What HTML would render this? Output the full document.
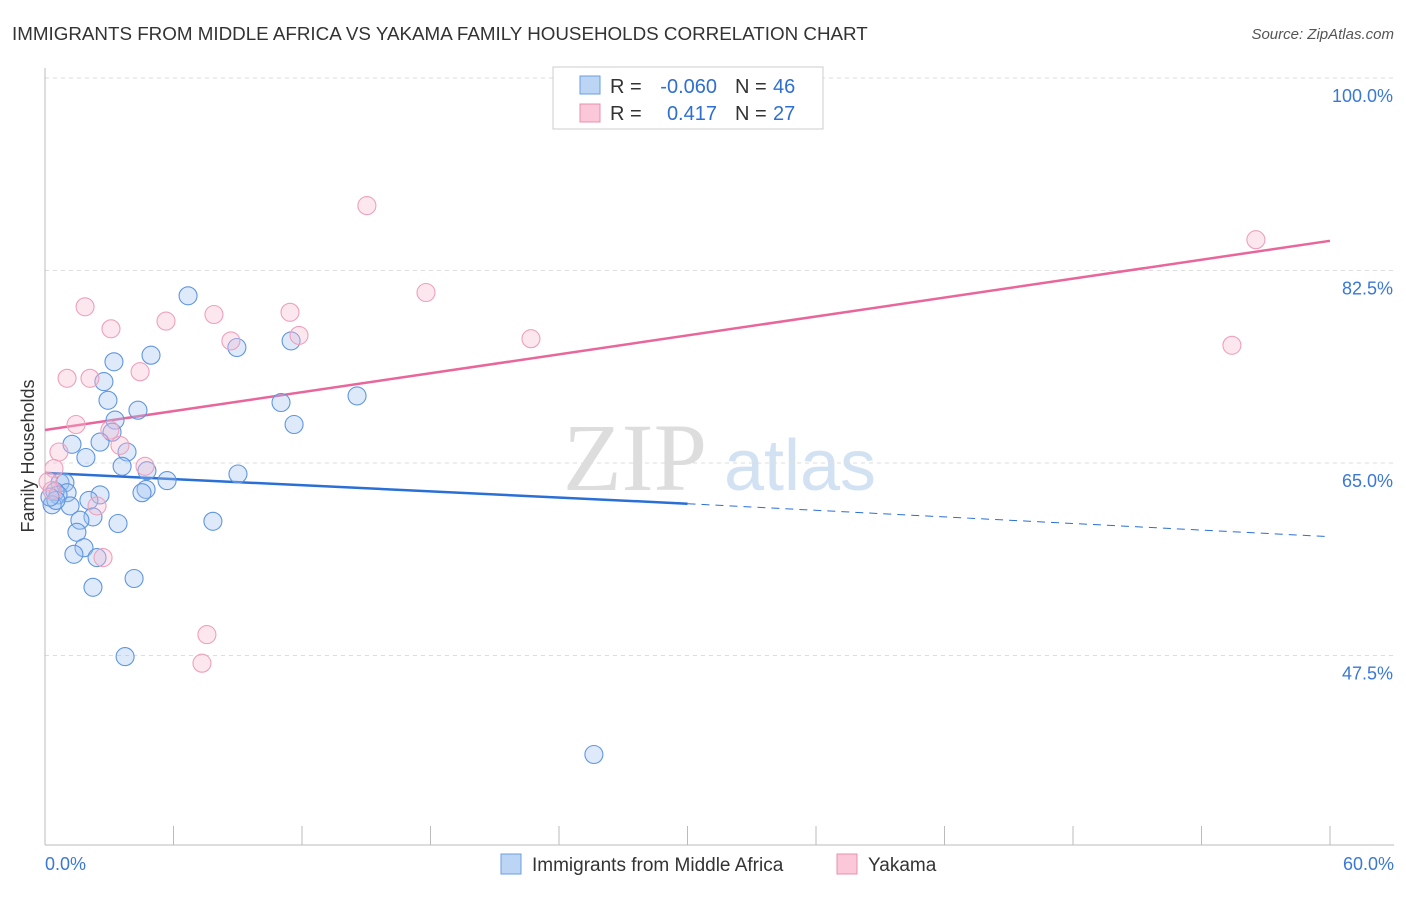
<!DOCTYPE html>
<html><head><meta charset="utf-8"><style>
body{margin:0;background:#fff;font-family:"Liberation Sans",sans-serif}
svg text{font-family:"Liberation Sans",sans-serif}
</style></head><body>
<svg id="chart" width="1406" height="892" viewBox="0 0 1406 892" xmlns="http://www.w3.org/2000/svg">
<text x="12" y="40" font-size="18.8" fill="#333">IMMIGRANTS FROM MIDDLE AFRICA VS YAKAMA FAMILY HOUSEHOLDS CORRELATION CHART</text>
<text x="1394" y="39" font-size="15" fill="#555" text-anchor="end" font-style="italic">Source: ZipAtlas.com</text>
<g>
<text x="635" y="490" font-size="96" fill="#ddd" text-anchor="middle" style="font-family:'Liberation Serif',serif">ZIP</text>
<text x="800" y="490" font-size="72" fill="#d3e2f3" text-anchor="middle">atlas</text>
</g>
<g id="grid"></g>
<g id="axes"></g>
<g id="trends"></g>
<g id="points"></g>
<text transform="translate(34,456) rotate(-90)" font-size="18" fill="#333" text-anchor="middle">Family Households</text>
<g>
<rect x="553" y="67" width="270" height="62" fill="#fff" stroke="#ccc"/>
<rect x="580" y="76" width="20" height="18" fill="#bcd5f5" stroke="#6a9ee0"/>
<rect x="580" y="104" width="20" height="18" fill="#fac8d8" stroke="#e890ad"/>
<text x="610" y="93" font-size="20" fill="#333">R =</text>
<text x="717" y="93" font-size="20" fill="#2f6fd0" text-anchor="end">-0.060</text>
<text x="735" y="93" font-size="20" fill="#333">N =</text>
<text x="773" y="93" font-size="20" fill="#2f6fd0">46</text>
<text x="610" y="120" font-size="20" fill="#333">R =</text>
<text x="717" y="120" font-size="20" fill="#2f6fd0" text-anchor="end">0.417</text>
<text x="735" y="120" font-size="20" fill="#333">N =</text>
<text x="773" y="120" font-size="20" fill="#2f6fd0">27</text>
</g>
<g>
<rect x="501" y="854" width="20" height="20" fill="#bcd5f5" stroke="#6a9ee0"/>
<text x="532" y="871" font-size="19" fill="#333">Immigrants from Middle Africa</text>
<rect x="837" y="854" width="20" height="20" fill="#fac8d8" stroke="#e890ad"/>
<text x="868" y="871" font-size="19" fill="#333">Yakama</text>
</g>
</svg>
<script>
const yTicks=[100,82.5,65,47.5];
const yTickLabels=["100.0%","82.5%","65.0%","47.5%"];
const xTickLabels=["0.0%","60.0%"];
const blueX=[6.68,4.95,3.22,2.75,8.96,11.49,14.57,11.02,11.63,4.34,2.94,3.27,3.13,2.57,1.26,3.83,1.91,3.60,4.76,9.01,5.70,0.70,0.93,1.03,0.47,0.61,2.57,2.05,4.72,4.53,0.33,1.17,2.24,1.63,3.41,7.84,1.49,1.82,1.35,2.43,4.16,2.24,3.74,25.63,0.51,0.23];
const blueY=[80.2,74.8,74.2,72.4,75.5,76.1,71.1,70.5,68.5,69.8,70.7,68.9,67.8,66.9,66.7,66.0,65.5,64.7,64.3,64.0,63.4,63.2,63.2,62.3,62.4,62.1,62.1,61.6,62.6,62.3,61.2,61.1,60.1,59.8,59.5,59.7,58.7,57.3,56.7,56.4,54.5,53.7,47.4,38.5,61.6,61.9];
const pinkX=[15.03,56.54,17.79,1.87,11.44,7.89,5.65,3.08,11.86,8.68,22.69,55.42,4.44,1.03,2.10,1.45,3.03,3.50,0.65,4.67,0.42,0.14,2.43,2.71,7.56,7.33,0.33];
const pinkY=[88.4,85.3,80.5,79.2,78.7,78.5,77.9,77.2,76.6,76.1,76.3,75.7,73.3,72.7,72.7,68.5,68.0,66.6,66.0,64.7,64.5,63.3,61.1,56.4,49.4,46.8,62.5];
const pinkTrend=[68.0,85.2];
const blueTrend=[64.1,61.3,58.3];
const NS="http://www.w3.org/2000/svg";
const X=v=>45+v/60*1285, Y=v=>463-(v-65)*11;
function mk(t,a,p){const e=document.createElementNS(NS,t);for(const k in a)e.setAttribute(k,a[k]);p.appendChild(e);return e;}
const grid=document.getElementById('grid'),axes=document.getElementById('axes');
yTicks.forEach((t,i)=>{
 const l=mk('line',{x1:45,x2:1394,y1:Y(t),y2:Y(t),stroke:'#ddd','stroke-dasharray':'4,4'},grid);
 
 
 const tx=mk('text',{x:1393,y:Y(t)+24,'font-size':18,fill:'#3a78d4','text-anchor':'end'},axes);
 tx.textContent=yTickLabels[i];
 
 
});
mk('line',{x1:45,x2:45,y1:68,y2:845,stroke:'#bbb'},axes);
mk('line',{x1:45,x2:1394,y1:845,y2:845,stroke:'#bbb'},axes);
for(let i=0;i<=10;i++){const t=mk('line',{x1:X(i*6),x2:X(i*6),y1:826,y2:845,stroke:'#bbb'},axes);
 
 }
const xl0=mk('text',{x:45,y:870,'font-size':18,fill:'#3a78d4'},axes);xl0.textContent=xTickLabels[0];


const xl1=mk('text',{x:1394,y:870,'font-size':18,fill:'#3a78d4','text-anchor':'end'},axes);xl1.textContent=xTickLabels[1];


const pts=document.getElementById('points');
blueX.forEach((x,i)=>{const c=mk('circle',{cx:X(x),cy:Y(blueY[i]),r:9,fill:'rgba(160,195,240,0.35)',stroke:'#6096e0','stroke-width':1.1},pts);
 
 });
pinkX.forEach((x,i)=>{const c=mk('circle',{cx:X(x),cy:Y(pinkY[i]),r:9,fill:'rgba(248,185,208,0.35)',stroke:'#eea0bc','stroke-width':1.1},pts);
 
 });
const tr=document.getElementById('trends');
const p=mk('line',{x1:X(0),y1:Y(pinkTrend[0]),x2:X(60),y2:Y(pinkTrend[1]),stroke:'#e8669a','stroke-width':2.5},tr);


const b1=mk('line',{x1:X(0),y1:Y(blueTrend[0]),x2:X(30),y2:Y(blueTrend[1]),stroke:'#2a6fd6','stroke-width':2.5},tr);


const b2=mk('line',{x1:X(30),y1:Y(blueTrend[1]),x2:X(60),y2:Y(blueTrend[2]),stroke:'#2a6fd6','stroke-width':1,'stroke-dasharray':'8,6'},tr);


</script>
</body></html>
